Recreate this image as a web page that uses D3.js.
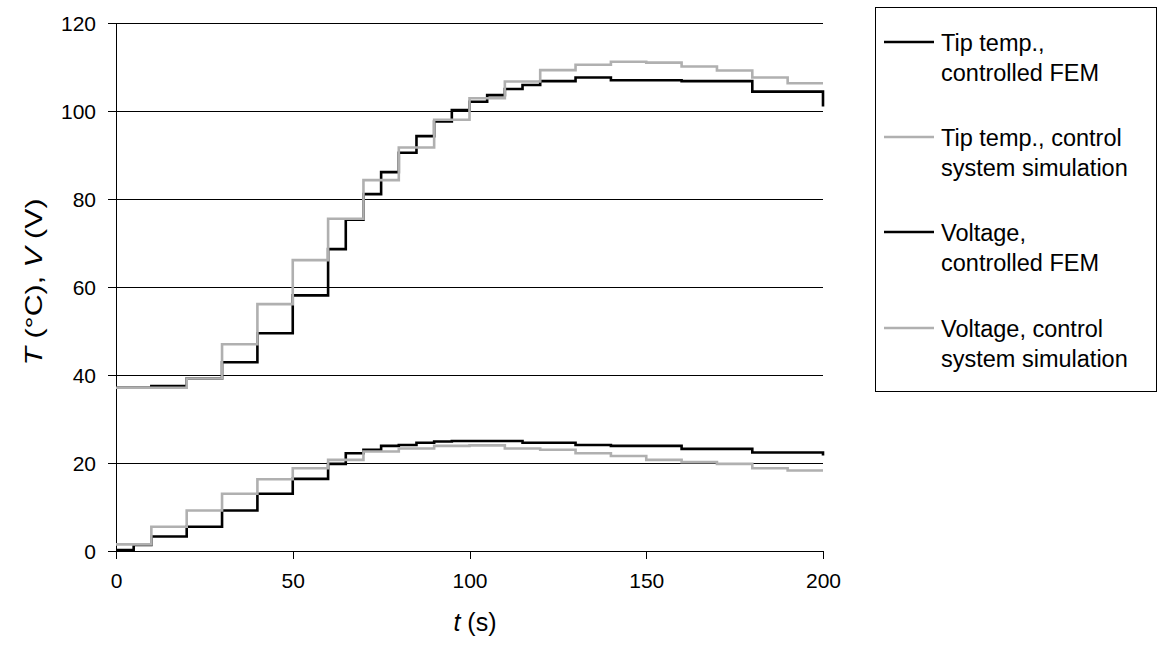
<!DOCTYPE html>
<html>
<head>
<meta charset="utf-8">
<script src="https://cdn.jsdelivr.net/npm/d3@7"></script>
<style>
  body { margin: 0; background: #fff; }
  svg text { font-family: "Liberation Sans", Arial, sans-serif; fill: #000; }
</style>
</head>
<body>
<svg id="chart" width="1166" height="651"></svg>
<script>
// step series: [t (s), value], each value holds until the next t
const tipFem = [[0,37.1],[10,37.5],[20,39.2],[30,42.9],[40,49.5],[50,58.1],[60,68.6],[65,75.3],[70,81.1],[75,86.1],
  [80,90.5],[85,94.3],[90,97.6],[95,100.2],[100,102.1],[105,103.6],[110,105.0],[115,105.9],[120,106.8],[130,107.6],
  [140,107.0],[160,106.8],[180,104.4],[200,104.4],[200,101.0]];
const tipSim = [[0,37.1],[10,37.1],[20,39.2],[30,47.0],[40,56.1],[50,66.1],[60,75.5],[70,84.3],[80,91.7],[90,98.0],
  [100,102.9],[110,106.7],[120,109.3],[130,110.5],[140,111.2],[150,111.0],[160,110.1],[170,109.2],[180,107.6],
  [190,106.3],[200,106.3]];
const voltFem = [[0,0.2],[5,1.4],[10,3.3],[20,5.5],[30,9.2],[40,13.0],[50,16.4],[60,19.8],[65,22.2],[70,23.0],
  [75,23.9],[80,24.1],[85,24.6],[90,24.9],[95,25.0],[115,24.6],[130,24.1],[140,23.9],[160,23.2],[180,22.4],
  [200,22.4],[200,21.7]];
const voltSim = [[0,1.5],[10,5.5],[20,9.2],[30,13.0],[40,16.3],[50,18.8],[60,20.7],[70,22.6],[80,23.3],[90,23.9],
  [100,24.0],[110,23.3],[120,23.0],[130,22.2],[140,21.6],[150,20.7],[160,20.2],[170,19.8],[180,18.8],[190,18.3],
  [200,18.3]];

const xTicks = [0, 50, 100, 150, 200];
const yTicks = [0, 20, 40, 60, 80, 100, 120];
const legendNames = [
  ["Tip temp.,", "controlled FEM"],
  ["Tip temp., control", "system simulation"],
  ["Voltage,", "controlled FEM"],
  ["Voltage, control", "system simulation"]
];
const seriesList = [tipFem, tipSim, voltFem, voltSim];
const seriesColor = ["#000", "#b0b0b0", "#000", "#b0b0b0"];

const svg = d3.select("#chart");
const margin = { left: 116, right: 823, top: 23, bottom: 551 };

const x = d3.scaleLinear().domain([0, 200]).range([margin.left, margin.right]);
const y = d3.scaleLinear().domain([0, 120]).range([margin.bottom, margin.top]);

// gridlines
svg.append("g")
  .selectAll("line")
  .data(yTicks.slice(1))
  .enter()
  .append("line")
  .attr("x1", margin.left).attr("x2", margin.right)
  .attr("y1", d => y(d)).attr("y2", d => y(d))
  .attr("stroke", "#000").attr("stroke-width", 1)
  .attr("shape-rendering", "crispEdges");

// axes
const yAxis = svg.append("g")
  .attr("transform", `translate(${margin.left},0)`)
  .call(d3.axisLeft(y).tickValues(yTicks).tickSize(8).tickPadding(12));
const xAxis = svg.append("g")
  .attr("transform", `translate(0,${margin.bottom})`)
  .call(d3.axisBottom(x).tickValues(xTicks).tickSize(8).tickPadding(14));

[xAxis, yAxis].forEach(a => {
  a.attr("shape-rendering", "crispEdges");
  a.select(".domain").attr("stroke", "#000").attr("stroke-width", 1);
  a.selectAll(".tick line").attr("stroke", "#000").attr("stroke-width", 1);
  a.selectAll("text").attr("font-size", 21).attr("font-family", '"Liberation Sans", Arial, sans-serif');
});
yAxis.selectAll("text").attr("dy", "0.36em");

// series
const line = d3.line()
  .x(d => x(d[0]))
  .y(d => y(d[1]))
  .curve(d3.curveStepAfter);

seriesList.forEach((s, i) => {
  svg.append("path")
    .datum(s)
    .attr("fill", "none")
    .attr("stroke", seriesColor[i])
    .attr("stroke-width", 2.6)
    .attr("d", line);
});

// axis titles
svg.append("text")
  .attr("x", 475).attr("y", 631)
  .attr("text-anchor", "middle")
  .attr("font-size", 25)
  .html('<tspan font-style="italic">t</tspan> (s)');

svg.append("text")
  .attr("transform", "translate(42,282) rotate(-90)")
  .attr("text-anchor", "middle")
  .attr("font-size", 24)
  .attr("textLength", 167)
  .attr("lengthAdjust", "spacingAndGlyphs")
  .html('<tspan font-style="italic">T</tspan> (°C), <tspan font-style="italic">V</tspan> (V)');

// legend
svg.append("rect")
  .attr("x", 875.5).attr("y", 7.5)
  .attr("width", 281).attr("height", 384)
  .attr("fill", "#fff").attr("stroke", "#000").attr("stroke-width", 1);

const legendY = [42, 137, 232, 328];
legendNames.forEach((names, i) => {
  const g = svg.append("g").attr("transform", `translate(0,${legendY[i]})`);
  g.append("line")
    .attr("x1", 884).attr("x2", 934)
    .attr("y1", 0).attr("y2", 0)
    .attr("stroke", seriesColor[i]).attr("stroke-width", 2.6);
  names.forEach((t, j) => {
    g.append("text")
      .attr("x", 941).attr("y", 9 + j * 30)
      .attr("font-size", 23.5)
      .text(t);
  });
});
</script>
</body>
</html>
